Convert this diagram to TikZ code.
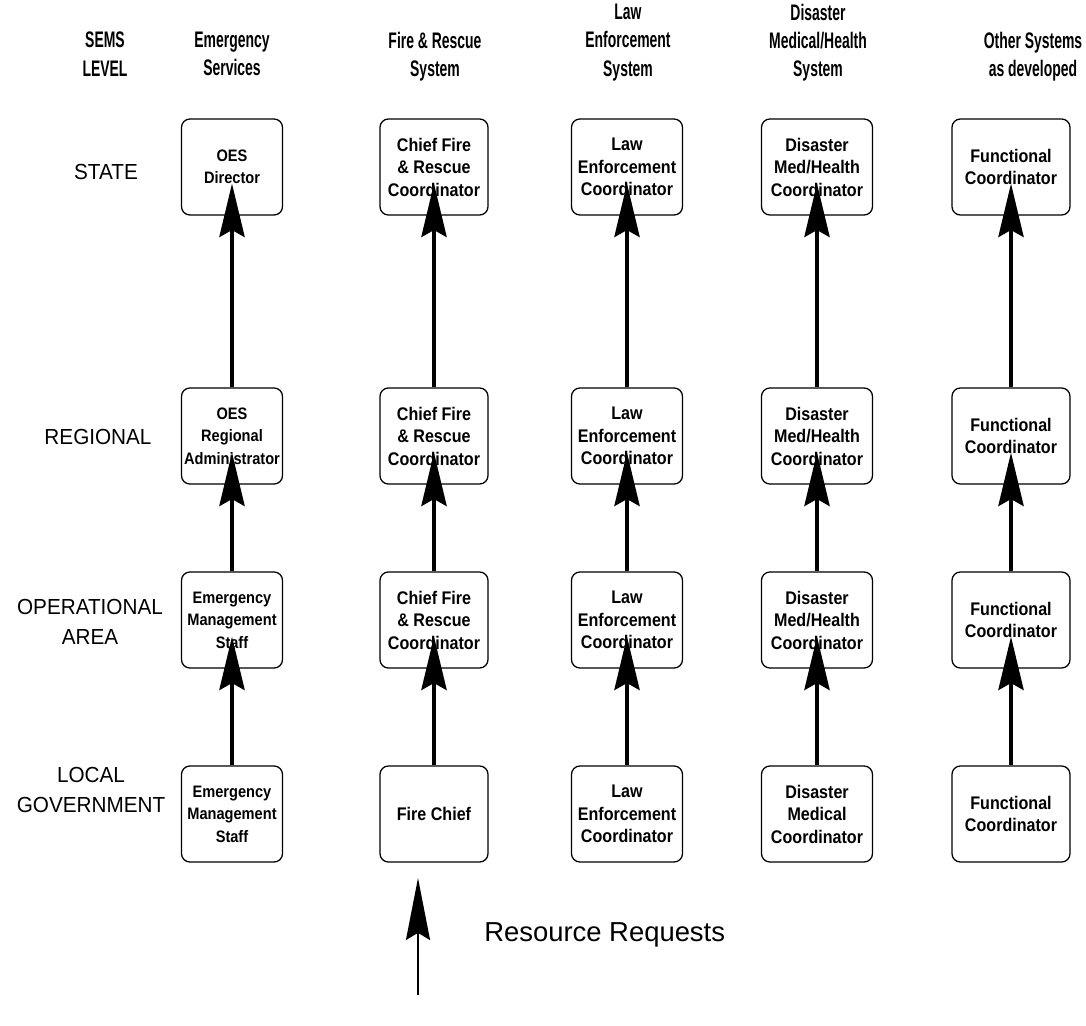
\documentclass[tikz,border=0pt]{standalone}
\usepackage{fontspec}
\setmainfont{Liberation Sans}
\newfontfamily\hdrfont{Liberation Sans}[FakeStretch=0.62]
\newfontfamily\lvlfont{Liberation Sans}[FakeStretch=0.95]
\newfontfamily\boxfont{Liberation Sans}[FakeStretch=0.88]
\usetikzlibrary{arrows.meta,calc}
\tikzset{
  hdr/.style={font=\hdrfont\bfseries\fontsize{16pt}{20pt}\selectfont, align=center, anchor=north, inner sep=0pt},
  lvl/.style={font=\lvlfont\fontsize{15.5pt}{21pt}\selectfont, align=center, inner sep=0pt},
  box/.style={draw, line width=0.9pt, rounded corners=6pt, fill=white, align=center,
    minimum height=2.4cm, inner sep=1pt, font=\boxfont\bfseries\fontsize{13pt}{16pt}\selectfont},
  esbox/.style={box, minimum width=2.525cm, font=\boxfont\bfseries\fontsize{11.8pt}{16pt}\selectfont},
  req/.style={-{Stealth[length=38pt,width=18pt,inset=5pt]}, line width=2.4pt},
}
\begin{document}
\begin{tikzpicture}[x=0.025cm, y=-0.025cm]
  \useasboundingbox (0,0) rectangle (1086,1026);
  \node[hdr] (h-sems) at (105,32) {SEMS\\LEVEL};
  \node[hdr] (h-es) at (232,32) {Emergency\\Services};
  \node[hdr] (h-fr) at (435,32) {Fire \& Rescue\\System};
  \node[hdr] (h-le) at (628,4) {Law\\Enforcement\\System};
  \node[hdr] (h-dm) at (818,4) {Disaster\\Medical/Health\\System};
  \node[hdr] (h-os) at (1033,32) {Other Systems\\as developed};

  \node[lvl] (l-state) at (106,172) {STATE};
  \node[lvl] (l-reg) at (98,437) {REGIONAL};
  \node[lvl] (l-op) at (90,622) {OPERATIONAL\\AREA};
  \node[lvl] (l-loc) at (91,790) {LOCAL\\GOVERNMENT};

  \node[esbox] (es-state) at (232,167) {OES\\Director};
  \node[esbox] (es-reg) at (232,436) {OES\\Regional\\Administrator};
  \node[esbox] (es-op) at (232,620) {Emergency\\Management\\Staff};
  \node[esbox] (es-loc) at (232,814) {Emergency\\Management\\Staff};

  \node[box, minimum width=2.7cm] (fr-state) at (434,167) {Chief Fire\\\& Rescue\\Coordinator};
  \node[box, minimum width=2.7cm] (fr-reg) at (434,436) {Chief Fire\\\& Rescue\\Coordinator};
  \node[box, minimum width=2.7cm] (fr-op) at (434,620) {Chief Fire\\\& Rescue\\Coordinator};
  \node[box, minimum width=2.7cm] (fr-loc) at (434,814) {Fire Chief};

  \node[box, minimum width=2.775cm] (le-state) at (627,167) {Law\\Enforcement\\Coordinator};
  \node[box, minimum width=2.775cm] (le-reg) at (627,436) {Law\\Enforcement\\Coordinator};
  \node[box, minimum width=2.775cm] (le-op) at (627,620) {Law\\Enforcement\\Coordinator};
  \node[box, minimum width=2.775cm] (le-loc) at (627,814) {Law\\Enforcement\\Coordinator};

  \node[box, minimum width=2.775cm] (dm-state) at (817,167) {Disaster\\Med/Health\\Coordinator};
  \node[box, minimum width=2.775cm] (dm-reg) at (817,436) {Disaster\\Med/Health\\Coordinator};
  \node[box, minimum width=2.775cm] (dm-op) at (817,620) {Disaster\\Med/Health\\Coordinator};
  \node[box, minimum width=2.775cm] (dm-loc) at (817,814) {Disaster\\Medical\\Coordinator};

  \node[box, minimum width=2.95cm] (os-state) at (1011,167) {Functional\\Coordinator};
  \node[box, minimum width=2.95cm] (os-reg) at (1011,436) {Functional\\Coordinator};
  \node[box, minimum width=2.95cm] (os-op) at (1011,620) {Functional\\Coordinator};
  \node[box, minimum width=2.95cm] (os-loc) at (1011,814) {Functional\\Coordinator};

  \foreach \c in {es,fr,le,dm,os} {
    \draw[req] (\c-loc.north) -- ([yshift=0.8cm]\c-op.south);
    \draw[req] (\c-op.north) -- ([yshift=0.8cm]\c-reg.south);
    \draw[req] (\c-reg.north) -- ([yshift=0.8cm]\c-state.south);
  }

  \coordinate (rr-tail) at (418,995);
  \coordinate (rr-head) at (418,878);
  \draw[-{Stealth[length=44pt,width=17pt,inset=5pt]}, line width=1.8pt] (rr-tail) -- (rr-head);
  \node[anchor=west, inner sep=0pt, font=\fontsize{19.5pt}{24pt}\selectfont] (rr-label) at (484,935) {Resource Requests};
\end{tikzpicture}
\end{document}
